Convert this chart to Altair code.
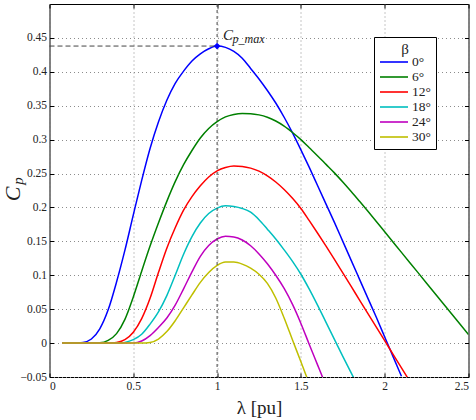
import altair as alt
import pandas as pd

betas = ["0°", "6°", "12°", "18°", "24°", "30°"]
colors = ["#0000ff", "#008000", "#ff0000", "#00bfbf", "#bf00bf", "#bfbf00"]

lam_b0 = [0.075, 0.15, 0.20, 0.25, 0.30, 0.35, 0.40, 0.45, 0.50, 0.55, 0.60, 0.65, 0.70, 0.75, 0.80, 0.85,
          0.90, 0.95, 1.00, 1.05, 1.10, 1.15, 1.20, 1.25, 1.30, 1.35, 1.40, 1.45, 1.50, 1.55, 1.60, 1.65,
          1.70, 1.75, 1.80, 1.85, 1.90, 1.95, 2.00, 2.05, 2.10]
cp_b0 = [0, 0, 0.001, 0.006, 0.021, 0.049, 0.090, 0.137, 0.189, 0.240, 0.287, 0.326, 0.358, 0.383, 0.401,
         0.416, 0.4265, 0.434, 0.438, 0.436, 0.430, 0.420, 0.405, 0.3895, 0.3725, 0.354, 0.333, 0.310,
         0.285, 0.259, 0.232, 0.205, 0.178, 0.150, 0.122, 0.094, 0.066, 0.038, 0.009, -0.020, -0.049]

lam_b6 = [0.075, 0.20, 0.30, 0.35, 0.40, 0.45, 0.50, 0.55, 0.60, 0.65, 0.70, 0.75, 0.80, 0.85, 0.90, 0.95,
          1.00, 1.05, 1.10, 1.15, 1.20, 1.25, 1.30, 1.35, 1.40, 1.45, 1.50, 1.55, 1.60, 1.65, 1.70, 1.75,
          1.80, 1.85, 1.90, 1.95, 2.00, 2.10, 2.20, 2.30, 2.40, 2.50]
cp_b6 = [0, 0, 0.0005, 0.004, 0.014, 0.035, 0.068, 0.106, 0.143, 0.177, 0.209, 0.238, 0.263, 0.284, 0.3025,
         0.3165, 0.3265, 0.3335, 0.3372, 0.3386, 0.3383, 0.3365, 0.333, 0.3275, 0.320, 0.3105, 0.300,
         0.288, 0.276, 0.2635, 0.251, 0.2375, 0.2235, 0.209, 0.1943, 0.1793, 0.1641, 0.1338, 0.1035,
         0.0732, 0.0429, 0.0126]

lam_b12 = [0.075, 0.35, 0.40, 0.45, 0.50, 0.55, 0.60, 0.65, 0.70, 0.75, 0.80, 0.85, 0.90, 0.95, 1.00, 1.05,
           1.10, 1.15, 1.20, 1.25, 1.30, 1.35, 1.40, 1.45, 1.50, 1.55, 1.60, 1.65, 1.70, 1.75, 1.80, 1.85,
           1.90, 1.95, 2.00, 2.05, 2.10, 2.15]
cp_b12 = [0, 0, 0.001, 0.005, 0.016, 0.036, 0.066, 0.104, 0.140, 0.170, 0.196, 0.216, 0.232, 0.245, 0.254,
          0.259, 0.2612, 0.2605, 0.258, 0.2535, 0.2465, 0.2375, 0.2265, 0.2135, 0.1985, 0.1805, 0.162,
          0.143, 0.1235, 0.1035, 0.0835, 0.0635, 0.0435, 0.0235, 0.0035, -0.0165, -0.0365, -0.0565]

lam_b18 = [0.075, 0.42, 0.45, 0.50, 0.55, 0.60, 0.65, 0.70, 0.75, 0.80, 0.85, 0.90, 0.95, 1.00, 1.05, 1.10,
           1.15, 1.20, 1.25, 1.30, 1.35, 1.40, 1.45, 1.50, 1.55, 1.60, 1.65, 1.70, 1.75, 1.80, 1.85]
cp_b18 = [0, 0, 0.001, 0.005, 0.013, 0.028, 0.046, 0.070, 0.100, 0.131, 0.157, 0.177, 0.191, 0.199, 0.2025,
          0.2015, 0.1985, 0.193, 0.182, 0.168, 0.1535, 0.1375, 0.1205, 0.1015, 0.0795, 0.0555, 0.0305,
          0.0055, -0.0195, -0.044, -0.068]

lam_b24 = [0.075, 0.50, 0.55, 0.60, 0.65, 0.70, 0.75, 0.80, 0.85, 0.90, 0.95, 1.00, 1.05, 1.10, 1.15, 1.20,
           1.25, 1.30, 1.35, 1.40, 1.45, 1.50, 1.55, 1.60, 1.65]
cp_b24 = [0, 0, 0.003, 0.011, 0.023, 0.037, 0.056, 0.080, 0.105, 0.128, 0.144, 0.1535, 0.1575, 0.1565,
          0.152, 0.1435, 0.1315, 0.117, 0.100, 0.0805, 0.057, 0.029, -0.002, -0.0325, -0.063]

lam_b30 = [0.075, 0.55, 0.60, 0.65, 0.70, 0.75, 0.80, 0.85, 0.90, 0.95, 1.00, 1.05, 1.10, 1.15, 1.20, 1.25,
           1.30, 1.35, 1.40, 1.45, 1.50, 1.55]
cp_b30 = [0, 0, 0.001, 0.006, 0.017, 0.033, 0.052, 0.071, 0.0895, 0.104, 0.1145, 0.1195, 0.1195, 0.1165,
          0.1105, 0.1015, 0.088, 0.0665, 0.037, 0.0045, -0.0275, -0.060]

peak_lam = [1.0]
peak_cp = [0.438]

x_ticks = [0, 0.5, 1, 1.5, 2, 2.5]
y_ticks = [-0.05, 0, 0.05, 0.1, 0.15, 0.2, 0.25, 0.3, 0.35, 0.4, 0.45]

rows = []
for b, lam, cp in zip(betas, [lam_b0, lam_b6, lam_b12, lam_b18, lam_b24, lam_b30],
                      [cp_b0, cp_b6, cp_b12, cp_b18, cp_b24, cp_b30]):
    for i, (l, c) in enumerate(zip(lam, cp)):
        rows.append({"beta": b, "lam": l, "cp": c, "order": i})
df = pd.DataFrame(rows)
peak_df = pd.DataFrame({"lam": peak_lam, "cp": peak_cp})

FONT = "Liberation Serif, Times New Roman, DejaVu Serif, serif"
TXT = "#222222"
xscale = alt.Scale(domain=[0, 2.5], nice=False, zero=False)
yscale = alt.Scale(domain=[-0.05, 0.5], nice=False, zero=False)

xaxis = alt.Axis(values=x_ticks, format="~g", title="λ [pu]", grid=True, gridDash=[1, 3],
                 gridColor="#8c8c8c", tickSize=0, domain=False, labelFont=FONT, labelFontSize=11.5,
                 labelColor=TXT, labelPadding=3, titleFont=FONT, titleFontSize=19,
                 titleFontWeight="normal", titlePadding=7, titleColor=TXT)
yaxis = alt.Axis(values=y_ticks, format="~g", title=None, grid=True, gridDash=[1, 3],
                 gridColor="#8c8c8c", tickSize=0, domain=False, labelFont=FONT, labelFontSize=11.5,
                 labelColor=TXT, labelPadding=3)

lines = alt.Chart(df).mark_line(strokeWidth=1.5, interpolate="monotone", clip=True).encode(
    x=alt.X("lam:Q", scale=xscale, axis=xaxis),
    y=alt.Y("cp:Q", scale=yscale, axis=yaxis),
    color=alt.Color("beta:N", scale=alt.Scale(domain=betas, range=colors), sort=betas,
                    legend=alt.Legend(orient="none", legendX=324.5, legendY=33, title="β",
                                      titleFont=FONT, titleFontSize=15, titleFontWeight="normal",
                                      titleAnchor="middle", titleColor=TXT, titlePadding=-3,
                                      labelFont=FONT, labelFontSize=13.5, labelColor=TXT,
                                      symbolType="M-1,0L3,0", symbolSize=196, symbolStrokeWidth=1.6,
                                      strokeColor="black", fillColor="white", padding=5,
                                      rowPadding=0, labelOffset=17)),
    order="order:Q",
)

vdash = alt.Chart(peak_df).mark_rule(strokeDash=[3, 3], color="#444444", strokeWidth=1).encode(
    x=alt.X("lam:Q", scale=xscale, axis=None),
)
hdash = alt.Chart(peak_df).transform_calculate(zero="0").mark_rule(
    strokeDash=[5, 3], color="#444444", strokeWidth=1).encode(
    x=alt.X("zero:Q", scale=xscale, axis=None),
    x2="lam:Q",
    y=alt.Y("cp:Q", scale=yscale, axis=None),
)

peak = alt.Chart(peak_df).mark_point(shape="diamond", filled=True, color="#0000ff", size=45,
                                     opacity=1).encode(
    x=alt.X("lam:Q", scale=xscale, axis=None),
    y=alt.Y("cp:Q", scale=yscale, axis=None),
)

ann_c = alt.Chart(peak_df).mark_text(text="C", font=FONT, fontSize=15, fontStyle="italic",
                                     align="left", baseline="alphabetic", dx=6, dy=-6,
                                     color=TXT).encode(
    x=alt.X("lam:Q", scale=xscale, axis=None),
    y=alt.Y("cp:Q", scale=yscale, axis=None),
)
ann_sub = alt.Chart(peak_df).mark_text(text="p_max", font=FONT, fontSize=12, fontStyle="italic",
                                       align="left", baseline="alphabetic", dx=15.5, dy=-3,
                                       color=TXT).encode(
    x=alt.X("lam:Q", scale=xscale, axis=None),
    y=alt.Y("cp:Q", scale=yscale, axis=None),
)

ytitle_c = alt.Chart(peak_df).mark_text(text="C", font=FONT, fontSize=22, fontStyle="italic",
                                        angle=270, align="center", baseline="middle",
                                        color=TXT).encode(
    x=alt.value(-37), y=alt.value(190))
ytitle_p = alt.Chart(peak_df).mark_text(text="p", font=FONT, fontSize=15, fontStyle="italic",
                                        angle=270, align="center", baseline="middle",
                                        color=TXT).encode(
    x=alt.value(-32), y=alt.value(177))

tick_kw = dict(labels=False, grid=False, domain=False, ticks=True, tickSize=4, tickColor="black",
               offset=-4, title=None)
ticks_tr = alt.Chart(peak_df).mark_point(opacity=0).encode(
    x=alt.X("lam:Q", scale=xscale, axis=alt.Axis(orient="top", values=x_ticks, **tick_kw)),
    y=alt.Y("cp:Q", scale=yscale, axis=alt.Axis(orient="right", values=y_ticks, **tick_kw)),
)
ticks_bl = alt.Chart(peak_df).mark_point(opacity=0).encode(
    x=alt.X("lam:Q", scale=xscale, axis=alt.Axis(orient="bottom", values=x_ticks, **tick_kw)),
    y=alt.Y("cp:Q", scale=yscale, axis=alt.Axis(orient="left", values=y_ticks, **tick_kw)),
)

chart = alt.layer(
    lines, vdash, hdash, peak, ann_c, ann_sub, ytitle_c, ytitle_p, ticks_tr, ticks_bl
).resolve_axis(x="independent", y="independent").properties(
    width=419, height=373,
    autosize=alt.AutoSizeParams(type="none"),
    padding={"left": 49.5, "top": 4, "right": 7.5, "bottom": 43},
    background="white",
).configure_view(stroke="black", strokeWidth=1)

chart.save("out.html", embed_options={"renderer": "svg", "actions": False})
